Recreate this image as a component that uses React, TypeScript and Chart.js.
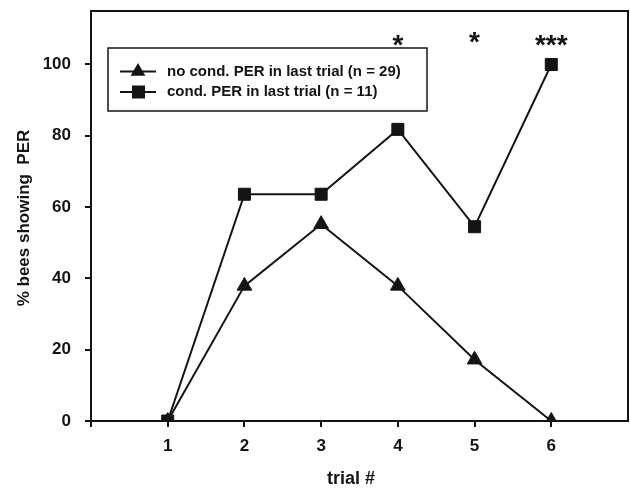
import React, { useEffect, useRef } from "react";
import { Chart, registerables } from "chart.js";

Chart.register(...registerables);

const trials = [1, 2, 3, 4, 5, 6];
const noCondPER = [0, 37.9, 55.2, 37.9, 17.2, 0];
const condPER = [0, 63.6, 63.6, 81.8, 54.5, 100];
const sigMarks = ["", "", "", "*", "*", "***"];
const sigLevels = [0, 0, 0, 103.0, 103.8, 102.8];
const xTickValues = [0, 1, 2, 3, 4, 5, 6];
const yTicks = [0, 20, 40, 60, 80, 100];
const seriesNames = ["no cond. PER in last trial (n = 29)", "cond. PER in last trial (n = 11)"];
const xTitle = "trial #";
const yTitle = "% bees showing  PER";

const FONT = "'Liberation Sans', Arial, sans-serif";
const INK = "#141414";

const framePlugin = {
  id: "frameAndText",
  afterDatasetsDraw(chart: any) {
    const { ctx, chartArea, scales } = chart;
    const xs = scales.x;
    const ys = scales.y;
    ctx.save();
    // frame
    ctx.strokeStyle = INK;
    ctx.lineWidth = 2;
    ctx.strokeRect(chartArea.left, chartArea.top, chartArea.right - chartArea.left, chartArea.bottom - chartArea.top);

    // legend
    const lx = 108, ly = 48, lw = 319, lh = 63;
    ctx.fillStyle = "#fff";
    ctx.fillRect(lx, ly, lw, lh);
    ctx.lineWidth = 1.5;
    ctx.strokeStyle = INK;
    ctx.strokeRect(lx, ly, lw, lh);
    const rows = [ly + 23.5, ly + 44];
    rows.forEach((ry, i) => {
      ctx.lineWidth = 1.8;
      ctx.beginPath();
      ctx.moveTo(120, ry);
      ctx.lineTo(156, ry);
      ctx.stroke();
      ctx.fillStyle = INK;
      ctx.beginPath();
      if (i === 0) {
        const r = 8.5;
        ctx.moveTo(138, ry - r);
        ctx.lineTo(138 + r * 0.866, ry + r * 0.5);
        ctx.lineTo(138 - r * 0.866, ry + r * 0.5);
        ctx.closePath();
      } else {
        ctx.rect(132, ry - 6.5, 13, 13);
      }
      ctx.fill();
      ctx.font = `bold 15px ${FONT}`;
      ctx.textAlign = "left";
      ctx.textBaseline = "middle";
      ctx.fillText(seriesNames[i], 167, ry);
    });

    // significance asterisks
    ctx.fillStyle = INK;
    ctx.font = `bold 28px ${FONT}`;
    ctx.textAlign = "center";
    ctx.textBaseline = "alphabetic";
    sigMarks.forEach((m, i) => {
      if (!m) return;
      ctx.fillText(m, xs.getPixelForValue(trials[i]), ys.getPixelForValue(sigLevels[i]));
    });

    // axis titles
    ctx.font = `bold 18px ${FONT}`;
    ctx.textAlign = "center";
    ctx.textBaseline = "middle";
    ctx.fillText(xTitle, 351, 479);
    ctx.save();
    ctx.translate(24, 218);
    ctx.rotate(-Math.PI / 2);
    ctx.font = `bold 17px ${FONT}`;
    ctx.fillText(yTitle, 0, 0);
    ctx.restore();
    ctx.restore();
  },
};

export default function App() {
  const ref = useRef<HTMLCanvasElement>(null);
  useEffect(() => {
    document.body.style.margin = "0";
    const canvas = ref.current!;
    const chart = new Chart(canvas, {
      type: "line",
      data: {
        datasets: [
          {
            label: seriesNames[0],
            data: trials.map((t, i) => ({ x: t, y: noCondPER[i] })),
            borderColor: INK,
            backgroundColor: INK,
            borderWidth: 2,
            pointStyle: "triangle",
            pointRadius: 8.5,
            pointBorderWidth: 1,
            tension: 0,
          },
          {
            label: seriesNames[1],
            data: trials.map((t, i) => ({ x: t, y: condPER[i] })),
            borderColor: INK,
            backgroundColor: INK,
            borderWidth: 2,
            pointStyle: "rect",
            pointRadius: 8.5,
            pointBorderWidth: 1,
            tension: 0,
          },
        ],
      },
      options: {
        animation: false,
        responsive: false,
        devicePixelRatio: 1,
        layout: { autoPadding: false, padding: { top: 11, right: 2, left: 0, bottom: 0 } },
        plugins: { legend: { display: false }, tooltip: { enabled: false } },
        scales: {
          x: {
            type: "linear",
            min: 0,
            max: 7,
            afterFit: (s: any) => { s.height = 68; s.paddingLeft = 0; s.paddingRight = 0; },
            afterBuildTicks: (s: any) => {
              s.ticks = xTickValues.map((v) => ({ value: v }));
            },
            border: { display: false },
            grid: { drawOnChartArea: false, drawTicks: true, tickLength: 6, color: INK, lineWidth: 2 },
            ticks: {
              color: INK,
              font: { family: FONT, size: 17, weight: "bold" },
              padding: 9,
              maxRotation: 0,
              autoSkip: false,
              callback: (v: any) => (trials.includes(v) ? String(v) : ""),
            },
          },
          y: {
            type: "linear",
            min: 0,
            max: 115,
            afterFit: (s: any) => { s.width = 91; s.paddingTop = 0; s.paddingBottom = 0; },
            afterBuildTicks: (s: any) => {
              s.ticks = yTicks.map((v) => ({ value: v }));
            },
            border: { display: false },
            grid: { drawOnChartArea: false, drawTicks: true, tickLength: 6, color: INK, lineWidth: 2 },
            ticks: {
              color: INK,
              font: { family: FONT, size: 17, weight: "bold" },
              padding: 14,
              autoSkip: false,
            },
          },
        },
      },
      plugins: [framePlugin],
    });
    return () => chart.destroy();
  }, []);
  return (
    <div style={{ width: 630, height: 489, background: "#fff" }}>
      <canvas ref={ref} width={630} height={489} style={{ display: "block" }} />
    </div>
  );
}
